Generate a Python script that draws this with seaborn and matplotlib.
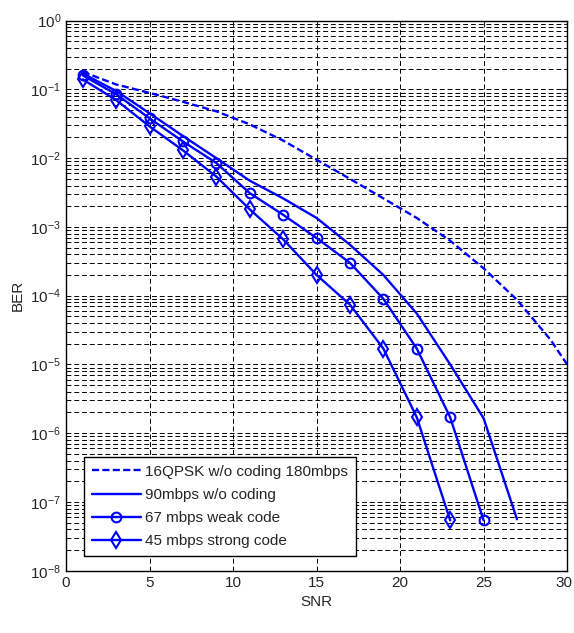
import numpy as np
import pandas as pd
import matplotlib
matplotlib.use("Agg")
import matplotlib.pyplot as plt
import seaborn as sns
from matplotlib.ticker import LogLocator, NullFormatter, FixedLocator
import matplotlib.transforms as mtransforms

# ---- data ----
snr_dashed = [1, 3, 5, 7, 9, 11, 13, 15, 17, 19, 21, 23, 25, 27, 29, 30]
ber_dashed = [0.18, 0.118, 0.089, 0.066, 0.048, 0.031, 0.018, 0.0095, 0.005,
              0.0026, 1.35e-3, 6.3e-4, 2.5e-4, 8.7e-5, 2.3e-5, 1e-5]

snr_90 = [1, 3, 5, 7, 9, 11, 13, 15, 17, 19, 21, 23, 25, 27]
ber_90 = [0.17, 0.095, 0.045, 0.021, 0.010, 4.7e-3, 2.6e-3, 1.35e-3, 5.5e-4,
          2.0e-4, 5.5e-5, 1.0e-5, 1.65e-6, 5.6e-8]

snr_67 = [1, 3, 5, 7, 9, 11, 13, 15, 17, 19, 21, 23, 25]
ber_67 = [0.16, 0.085, 0.038, 0.0175, 8.5e-3, 3.1e-3, 1.5e-3, 6.9e-4, 3.0e-4,
          9e-5, 1.7e-5, 1.7e-6, 5.4e-8]

snr_45 = [1, 3, 5, 7, 9, 11, 13, 15, 17, 19, 21, 23]
ber_45 = [0.14, 0.07, 0.029, 0.013, 5.4e-3, 1.8e-3, 6.6e-4, 2.0e-4, 7.4e-5,
          1.7e-5, 1.7e-6, 5.4e-8]

labels = ["16QPSK w/o coding 180mbps", "90mbps w/o coding",
          "67 mbps weak code", "45 mbps strong code"]
x_ticks = [0, 5, 10, 15, 20, 25, 30]

sns.set_style("white")
plt.rcParams['font.family'] = ['Liberation Sans', 'DejaVu Sans']
plt.rcParams['mathtext.fontset'] = 'custom'
plt.rcParams['mathtext.rm'] = 'Liberation Sans'

fig = plt.figure(figsize=(5.74, 6.33), dpi=100)
ax = fig.add_axes([0.115, 0.0984, 0.873, 0.869])

blue = (0, 0, 1)
lw = 1.7

sns.lineplot(data=pd.DataFrame({"SNR": snr_dashed, "BER": ber_dashed}), x="SNR", y="BER",
             ax=ax, color=blue, lw=lw, linestyle=(0, (3, 1.4)), label=labels[0],
             sort=False, estimator=None)
sns.lineplot(data=pd.DataFrame({"SNR": snr_90, "BER": ber_90}), x="SNR", y="BER",
             ax=ax, color=blue, lw=lw, label=labels[1], sort=False, estimator=None)
sns.lineplot(data=pd.DataFrame({"SNR": snr_67, "BER": ber_67}), x="SNR", y="BER",
             ax=ax, color=blue, lw=lw, marker='o', markersize=7, markerfacecolor='none',
             markeredgecolor=blue, markeredgewidth=1.5, label=labels[2],
             sort=False, estimator=None)
sns.lineplot(data=pd.DataFrame({"SNR": snr_45, "BER": ber_45}), x="SNR", y="BER",
             ax=ax, color=blue, lw=lw, marker='d', markersize=8, markerfacecolor='none',
             markeredgecolor=blue, markeredgewidth=1.5, label=labels[3],
             sort=False, estimator=None)

ax.set_yscale('log')
ax.set_xlim(0, 30)
ax.set_ylim(1e-8, 1)
ax.xaxis.set_major_locator(FixedLocator(x_ticks))
ax.yaxis.set_major_locator(LogLocator(base=10, numticks=20))
ax.yaxis.set_minor_locator(LogLocator(base=10, subs=np.arange(2, 10), numticks=20))
ax.yaxis.set_minor_formatter(NullFormatter())

ax.grid(True, which='major', axis='both', color='black', linestyle=(0, (5, 3)), linewidth=0.7)
ax.grid(True, which='minor', axis='y', color='black', linestyle=(0, (5, 3)), linewidth=0.7)

ax.tick_params(axis='both', which='both', direction='in', labelsize=11, top=True, right=True)
ax.tick_params(axis='both', which='major', length=4)
ax.tick_params(axis='y', which='minor', length=2)
for s in ax.spines.values():
    s.set_color('black')
    s.set_linewidth(1.0)

ax.set_xlabel("SNR", fontsize=11)
ax.set_ylabel("BER", fontsize=11)

# nudge the last x tick label so it stays inside the canvas
fig.canvas.draw()
xt = ax.get_xticklabels()
xt[-1].set_transform(xt[-1].get_transform() +
                     mtransforms.ScaledTranslation(-2 / 72, 0, fig.dpi_scale_trans))

leg = ax.legend(loc='lower left', bbox_to_anchor=(0.036, 0.027), borderaxespad=0,
                fontsize=11, frameon=True, fancybox=False, framealpha=1,
                edgecolor='black', handlelength=3.2, handletextpad=0.3,
                labelspacing=0.6, borderpad=0.5)
leg.get_frame().set_linewidth(1.0)

fig.savefig("out.png", dpi=100)
